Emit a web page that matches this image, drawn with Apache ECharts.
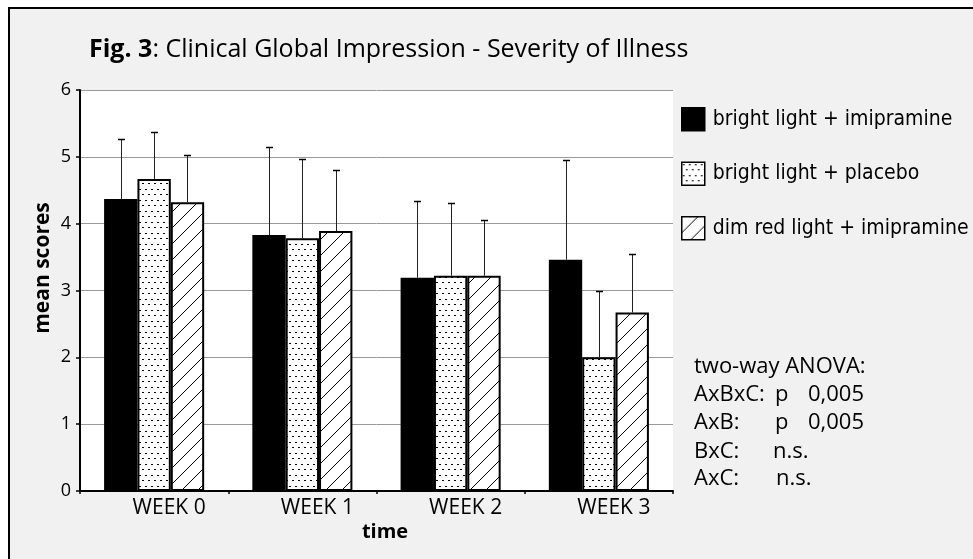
<!DOCTYPE html>
<html>
<head>
<meta charset="utf-8">
<script src="https://cdn.jsdelivr.net/npm/echarts@6/dist/echarts.min.js"></script>
<style>html,body{margin:0;padding:0;background:#fff;}#c{width:973px;height:559px;}</style>
</head>
<body>
<div id="c"></div>
<script>
// ---- data ----
const categories = ['WEEK 0', 'WEEK 1', 'WEEK 2', 'WEEK 3'];
const seriesNames = ['bright light + imipramine', 'bright light + placebo', 'dim red light + imipramine'];
const brightImipramine = [4.37, 3.83, 3.19, 3.46];
const brightImipramineSD = [0.90, 1.32, 1.15, 1.50];
const brightPlacebo = [4.67, 3.78, 3.22, 2.00];
const brightPlaceboSD = [0.70, 1.19, 1.09, 0.99];
const dimRedImipramine = [4.32, 3.89, 3.22, 2.67];
const dimRedImipramineSD = [0.71, 0.92, 0.83, 0.87];
const yTicks = [0, 1, 2, 3, 4, 5, 6];
const anovaTitle = 'two-way ANOVA:';
const anovaTerms = ['AxBxC:', 'AxB:', 'BxC:', 'AxC:'];
const anovaP = ['p', 'p', '', ''];
const anovaValues = ['0,005', '0,005', 'n.s.', 'n.s.'];

// ---- patterns ----
function dotPattern() {
  const c = document.createElement('canvas');
  c.width = 6; c.height = 11;
  const g = c.getContext('2d');
  g.fillStyle = '#fff'; g.fillRect(0, 0, 6, 11);
  g.fillStyle = '#000';
  g.fillRect(1, 2, 2, 1);
  g.fillRect(4, 7, 2, 1);
  return c;
}
function hatchPattern() {
  const s = 16;
  const c = document.createElement('canvas');
  c.width = s; c.height = s;
  const g = c.getContext('2d');
  g.fillStyle = '#fff'; g.fillRect(0, 0, s, s);
  g.strokeStyle = '#000'; g.lineWidth = 1;
  g.beginPath();
  g.moveTo(-2, s + 2); g.lineTo(s + 2, -2);
  g.moveTo(-2, 2); g.lineTo(2, -2);
  g.moveTo(s - 2, s + 2); g.lineTo(s + 2, s - 2);
  g.stroke();
  return c;
}
const fills = [
  '#000',
  { image: dotPattern(), repeat: 'repeat' },
  { image: hatchPattern(), repeat: 'repeat' }
];
const means = [brightImipramine, brightPlacebo, dimRedImipramine];
const sds = [brightImipramineSD, brightPlaceboSD, dimRedImipramineSD];
const GAP = 0.325;

const FONT = '"Open Sans", "Liberation Sans", sans-serif';
const LEGEND_FONT = '"DejaVu Sans Condensed", "DejaVu Sans", sans-serif';

const series = [];
means.forEach((m, k) => {
  series.push({
    type: 'bar', name: seriesNames[k], data: m,
    barGap: '0%', barCategoryGap: (GAP * 100) + '%',
    itemStyle: { color: fills[k], borderColor: '#000', borderWidth: 2 },
    z: 3
  });
});
means.forEach((m, k) => {
  series.push({
    type: 'custom',
    data: m.map((v, i) => [i, v, sds[k][i]]),
    encode: { x: 0, y: 1 },
    z: 4,
    silent: true,
    renderItem: function (params, api) {
      const i = api.value(0), v = api.value(1), s = api.value(2);
      const p0 = api.coord([i, v]);
      const p1 = api.coord([i, v + s]);
      const bw = api.size([1, 0])[0] * (1 - GAP) / 3;
      const cx = Math.round(p0[0] + (k - 1) * bw) + 0.5;
      const top = Math.round(p1[1]) + 0.5;
      return {
        type: 'group',
        children: [
          { type: 'line', shape: { x1: cx, y1: p0[1], x2: cx, y2: top }, style: { stroke: '#222', lineWidth: 1 } },
          { type: 'line', shape: { x1: cx - 3.5, y1: top, x2: cx + 3.5, y2: top }, style: { stroke: '#000', lineWidth: 1.5 } }
        ]
      };
    }
  });
});

const AF = '22px ' + FONT;
const graphics = [
  { type: 'rect', z: -100, shape: { x: 9, y: 8, width: 1000, height: 600 }, style: { fill: '#f1f1f1', stroke: '#000', lineWidth: 2 } },
  { type: 'text', x: 43, y: 268, rotation: Math.PI / 2, style: { text: 'mean scores', font: 'bold 21px ' + FONT, fill: '#000', align: 'center', verticalAlign: 'middle' } },
  { type: 'text', x: 385, y: 532, style: { text: 'time', font: 'bold 20px ' + FONT, fill: '#000', align: 'center', verticalAlign: 'middle' } },
  { type: 'text', x: 694, y: 367, style: { text: anovaTitle, font: AF, fill: '#000', align: 'left', verticalAlign: 'middle' } }
];
const rowY = [395, 423, 452, 479];
anovaTerms.forEach((t, r) => {
  graphics.push({ type: 'text', x: 694, y: rowY[r], style: { text: t, font: AF, fill: '#000', align: 'left', verticalAlign: 'middle' } });
  if (anovaP[r]) {
    graphics.push({ type: 'text', x: 775, y: rowY[r], style: { text: anovaP[r], font: AF, fill: '#000', align: 'left', verticalAlign: 'middle' } });
    graphics.push({ type: 'text', x: 808, y: rowY[r], style: { text: anovaValues[r], font: AF, fill: '#000', align: 'left', verticalAlign: 'middle' } });
  } else {
    graphics.push({ type: 'text', x: r === 2 ? 773 : 776, y: rowY[r], style: { text: anovaValues[r], font: AF, fill: '#000', align: 'left', verticalAlign: 'middle' } });
  }
});

const chart = echarts.init(document.getElementById('c'), null, { renderer: 'canvas' });
chart.setOption({
  backgroundColor: '#fff',
  animation: false,
  textStyle: { fontFamily: FONT },
  title: {
    left: 89, top: 37, padding: 0,
    text: '{b|Fig. 3}{n|: Clinical Global Impression - Severity of Illness}',
    textStyle: {
      rich: {
        b: { fontFamily: FONT, fontWeight: 'bold', fontSize: 25, color: '#000' },
        n: { fontFamily: FONT, fontWeight: 'normal', fontSize: 25, color: '#000' }
      }
    }
  },
  legend: {
    orient: 'vertical', left: 681, top: 107, padding: 0,
    itemWidth: 23, itemHeight: 23, itemGap: 30,
    icon: 'rect',
    data: seriesNames,
    itemStyle: { borderColor: '#000', borderWidth: 1.5 },
    textStyle: { fontFamily: LEGEND_FONT, fontSize: 21, color: '#000', padding: [0, 0, 0, 3] },
    selectedMode: false
  },
  grid: { left: 80, top: 90, width: 593, height: 401, show: true, backgroundColor: '#fff', borderWidth: 0 },
  xAxis: {
    type: 'category', data: categories,
    axisLine: { lineStyle: { color: '#000', width: 2 } },
    axisTick: { show: true, length: 3, lineStyle: { color: '#000', width: 1.5 } },
    axisLabel: { color: '#000', fontSize: 21, fontFamily: FONT, margin: 7, padding: [0, 0, 0, 30] },
    splitLine: { show: false }
  },
  yAxis: {
    type: 'value', min: yTicks[0], max: yTicks[yTicks.length - 1], interval: 1,
    axisLine: { show: true, lineStyle: { color: '#000', width: 2 } },
    axisTick: { show: true, length: 4, lineStyle: { color: '#000', width: 1.5 } },
    axisLabel: { color: '#000', fontSize: 18, fontFamily: FONT, margin: 9 },
    splitLine: { show: true, lineStyle: { color: '#9a9a9a', width: 1 } }
  },
  series: series,
  graphic: graphics
});
</script>
</body>
</html>
